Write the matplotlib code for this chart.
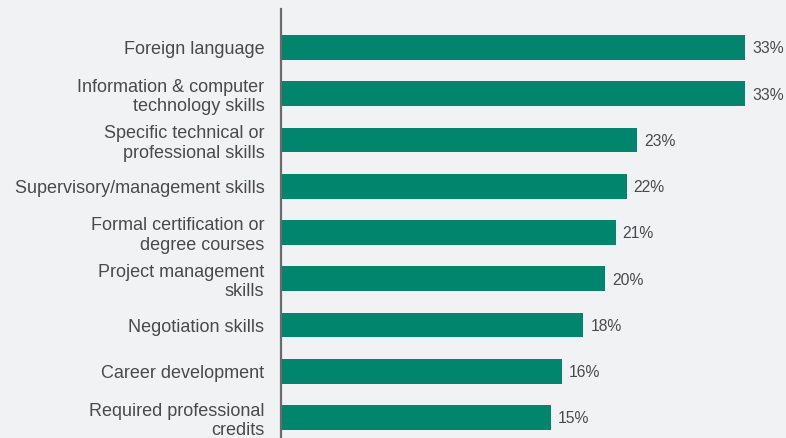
import matplotlib
matplotlib.use("Agg")
import matplotlib.pyplot as plt
import numpy as np

categories = [
    "Foreign language",
    "Information & computer\ntechnology skills",
    "Specific technical or\nprofessional skills",
    "Supervisory/management skills",
    "Formal certification or\ndegree courses",
    "Project management\nskills",
    "Negotiation skills",
    "Career development",
    "Required professional\ncredits",
]
values = [33, 33, 23, 22, 21, 20, 18, 16, 15]
value_labels = ["33%", "33%", "23%", "22%", "21%", "20%", "18%", "16%", "15%"]

BG = "#f1f2f4"
BAR = "#01856c"
TXT = "#4a4a4c"
baseline = -10.0

plt.rcParams["font.family"] = ["Liberation Sans", "DejaVu Sans"]

fig = plt.figure(figsize=(7.86, 4.38), dpi=100, facecolor=BG)
ax = fig.add_axes([281 / 786, 0, 505 / 786, 429 / 438])
ax.set_facecolor(BG)

y = np.arange(len(categories))
vals = np.array(values, dtype=float)
ax.barh(y, vals - baseline, left=baseline, height=0.54, color=BAR, zorder=2)

scale = 10.8  # px per unit
ax.set_xlim(baseline, baseline + 505 / scale)
ax.set_ylim(8.443, -0.832)

for yi, v, lab in zip(y, vals, value_labels):
    ax.annotate(lab, xy=(v, yi), xytext=(5, -1), textcoords="offset points",
                va="center", ha="left", fontsize=11.3, color=TXT)

ax.set_yticks(y)
ax.set_yticklabels(categories)
ax.tick_params(axis="y", length=0, pad=12, labelsize=13, labelcolor=TXT)
for t in ax.get_yticklabels():
    t.set_linespacing(1.0)
ax.set_xticks([])

for s in ["top", "right", "bottom"]:
    ax.spines[s].set_visible(False)
ax.spines["left"].set_color("#6b6b6b")
ax.spines["left"].set_linewidth(1.6)
ax.spines["left"].set_position(("data", baseline))

fig.savefig("out.png", dpi=100, facecolor=BG)
